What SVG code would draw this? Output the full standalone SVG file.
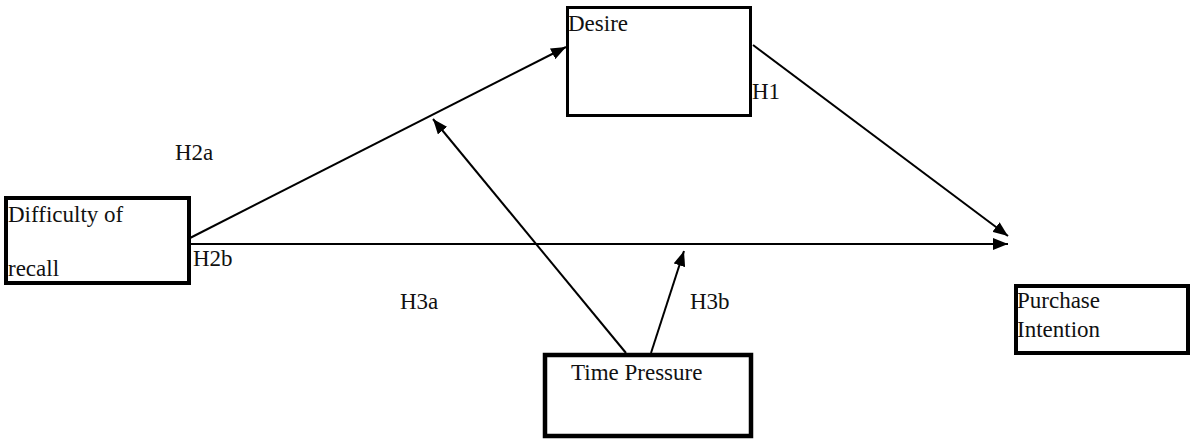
<svg xmlns="http://www.w3.org/2000/svg" width="1191" height="439" viewBox="0 0 1191 439">
  <defs>
    <marker id="arrow" markerUnits="userSpaceOnUse" markerWidth="16" markerHeight="12" refX="15" refY="6" orient="auto">
      <path d="M0,0 L15,6 L0,12 Z" fill="#000"/>
    </marker>
    <style>
      .box { fill: #fff; stroke: #000; }
      .lbl { font-family: "Liberation Serif", "Times New Roman", serif; font-size: 23px; fill: #111; }
      .edge { stroke: #000; stroke-width: 2; fill: none; marker-end: url(#arrow); }
    </style>
  </defs>
  <rect width="1191" height="439" fill="#fff"/>

  <!-- connectors -->
  <g id="connectors">
    <line class="edge" x1="190" y1="238" x2="566" y2="47"/>
    <line class="edge" x1="190" y1="244" x2="1008" y2="244"/>
    <line class="edge" x1="753" y1="45" x2="1008" y2="236"/>
    <line class="edge" x1="626" y1="353" x2="433" y2="119"/>
    <line class="edge" x1="651" y1="353" x2="684" y2="251"/>
  </g>

  <!-- hypothesis labels -->
  <g id="labels">
    <text class="lbl" x="175" y="160">H2a</text>
    <text class="lbl" x="752" y="99">H1</text>
    <text class="lbl" x="193" y="266">H2b</text>
    <text class="lbl" x="400" y="309">H3a</text>
    <text class="lbl" x="690" y="309">H3b</text>
  </g>

  <g id="desire">
    <rect class="box" x="567.5" y="7.5" width="183" height="108" stroke-width="3"/>
    <text class="lbl" x="568" y="31">Desire</text>
  </g>

  <g id="difficulty-of-recall">
    <rect class="box" x="6" y="198" width="183" height="85" stroke-width="4"/>
    <text class="lbl" x="8" y="222">Difficulty of</text>
    <text class="lbl" x="8" y="276">recall</text>
  </g>

  <g id="time-pressure">
    <rect class="box" x="545" y="355" width="206" height="81" stroke-width="4.5"/>
    <text class="lbl" x="571" y="380">Time Pressure</text>
  </g>

  <g id="purchase-intention">
    <rect class="box" x="1016" y="286" width="172" height="67" stroke-width="4"/>
    <text class="lbl" x="1017" y="308">Purchase</text>
    <text class="lbl" x="1017" y="337">Intention</text>
  </g>
</svg>
